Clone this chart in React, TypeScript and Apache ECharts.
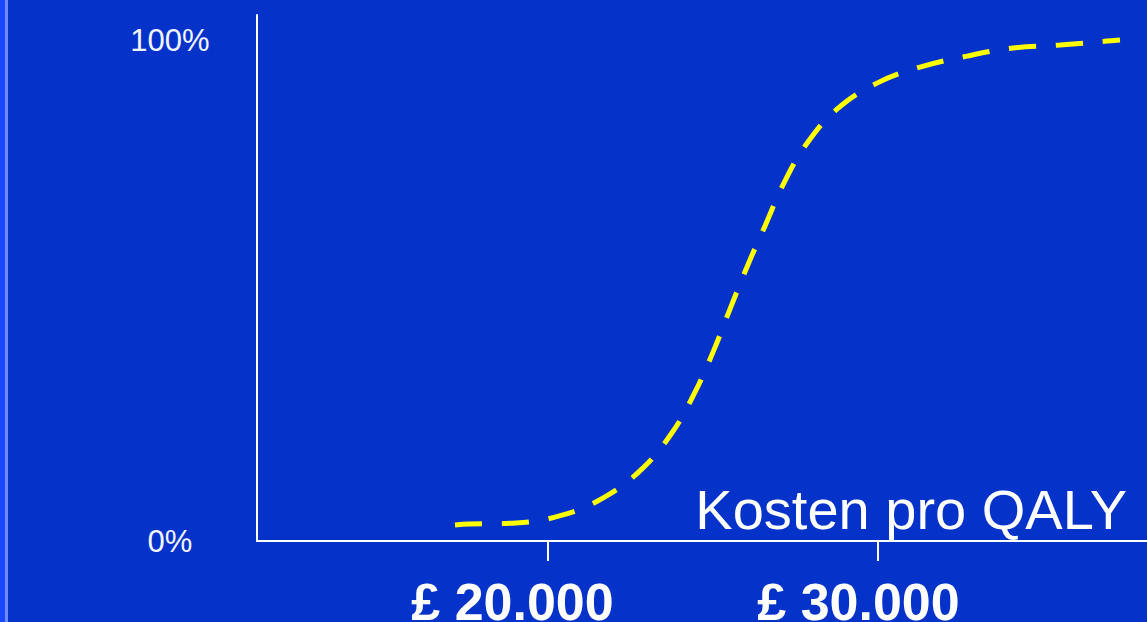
import React, { useEffect, useRef } from "react";
import * as echarts from "echarts";

const costs = [17182, 17606, 19030, 20455, 21727, 22849, 23758, 24424, 25000, 25515, 26030, 26576, 27152, 27848, 28758, 29970, 31273, 32697, 34091, 35515, 36939, 37333];
const probability = [3.2, 3.4, 3.6, 5.2, 8.8, 14.4, 21.6, 29.3, 37.7, 46.3, 54.7, 62.9, 71.5, 79.4, 86.2, 91.4, 94.6, 96.8, 98.4, 99.0, 99.8, 100];
const xTicks = [20000, 30000];
const xTickLabels = ["£ 20.000", "£ 30.000"];
const yTicks = [0, 100];
const yTickLabels = ["0%", "100%"];
const axisTitle = "Kosten pro QALY";

export default function App() {
  const ref = useRef<HTMLDivElement>(null);
  useEffect(() => {
    if (!ref.current) return;
    const chart = echarts.init(ref.current, undefined, { renderer: "svg" });
    const font = "'Liberation Sans', Arial, sans-serif";
    chart.setOption({
      animation: false,
      backgroundColor: "transparent",
      grid: { left: 257, right: 0, top: 15, bottom: 81, outerBoundsMode: "none", containLabel: false },
      xAxis: {
        type: "value",
        min: 11182,
        max: 38152,
        splitLine: { show: false },
        axisLine: { show: true, lineStyle: { color: "#ffffff", width: 2 } },
        axisTick: {
          show: true,
          customValues: xTicks,
          length: 20,
          inside: false,
          lineStyle: { color: "#ffffff", width: 2 },
        },
        axisLabel: {
          customValues: xTicks,
          margin: 35,
          formatter: (v: number) => {
            const i = xTicks.indexOf(v);
            if (i < 0) return "";
            return `{l${i}|${xTickLabels[i]}}`;
          },
          rich: {
            l0: { color: "#ffffff", fontSize: 52, fontWeight: "bold", fontFamily: font, padding: [0, 71, 0, 0], lineHeight: 52 },
            l1: { color: "#ffffff", fontSize: 52, fontWeight: "bold", fontFamily: font, padding: [0, 39, 0, 0], lineHeight: 52 },
          },
        },
      },
      yAxis: {
        type: "value",
        min: 0,
        max: 105,
        splitLine: { show: false },
        axisLine: { show: true, lineStyle: { color: "#ffffff", width: 2 } },
        axisTick: { show: false },
        axisLabel: {
          customValues: yTicks,
          margin: 87,
          align: "center",
          color: "#f2f4ff",
          fontSize: 31,
          fontFamily: font,
          formatter: (v: number) => {
            const i = yTicks.indexOf(v);
            return i < 0 ? "" : yTickLabels[i];
          },
        },
      },
      graphic: [
        {
          type: "text",
          right: 20,
          top: 481,
          style: {
            text: axisTitle,
            fill: "#ffffff",
            font: `56px ${font}`,
          },
        },
      ],
      series: [
        {
          type: "line",
          data: costs.map((c, i) => [c, probability[i]]),
          smooth: 0.4,
          showSymbol: false,
          lineStyle: { color: "#ffff00", width: 5, type: [27, 20] },
        },
      ],
    });
    return () => chart.dispose();
  }, []);
  return (
    <div style={{ position: "fixed", left: 0, top: 0, width: 1147, height: 622, background: "#0533c9", overflow: "hidden" }}>
      <div style={{ position: "absolute", left: 0, top: 0, width: 5, height: 622, background: "#1a48ff" }} />
      <div style={{ position: "absolute", left: 5, top: 0, width: 3, height: 622, background: "#6e8cff" }} />
      <div ref={ref} style={{ position: "absolute", left: 0, top: 0, width: 1147, height: 622 }} />
    </div>
  );
}
